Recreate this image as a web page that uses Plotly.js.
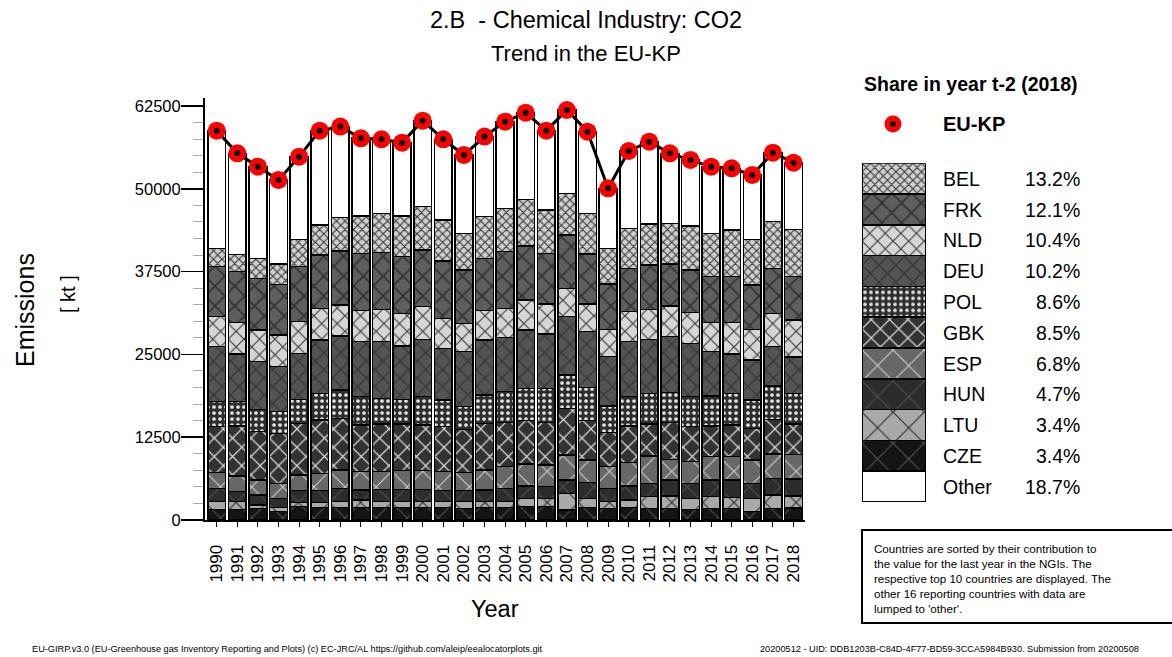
<!DOCTYPE html>
<html>
<head>
<meta charset="utf-8">
<script src="https://cdn.plot.ly/plotly-3.0.1.min.js"></script>
<style>
html,body{margin:0;padding:0;background:#fff;}
#chart{width:1172px;height:657px;}
</style>
</head>
<body>
<div id="chart"></div>
<script>
// ---------------- DATA ----------------
const years = [1990,1991,1992,1993,1994,1995,1996,1997,1998,1999,2000,2001,2002,2003,2004,2005,2006,2007,2008,2009,2010,2011,2012,2013,2014,2015,2016,2017,2018];
const euKP  = [58770,55350,53340,51330,54850,58770,59380,57620,57470,56960,60280,57470,55100,57870,60130,61490,58770,61890,58620,50070,55700,57110,55350,54350,53340,53090,52080,55450,53940];

const CZE   = [1610,1610,1761,1258,2013,1912,1912,1912,1912,1912,1912,1912,1761,1912,1912,2013,2013,1510,1912,1761,1912,1761,1761,1610,1761,1761,1258,1761,1834];
const LTU   = [1157,1157,503,654,604,704,855,1107,855,855,855,855,1006,855,855,1258,1258,2516,1359,1006,1107,1761,1862,1661,1761,1661,2013,2013,1834];
const HUN   = [2013,1510,1510,1359,1812,1812,2013,1510,1862,1862,1862,1661,1661,1761,2013,1862,1761,2013,2365,2013,2113,2013,2415,2264,2516,2617,2264,2516,2535];
const ESP   = [2365,2365,2264,2264,2365,2617,2768,2768,2667,2818,2818,2868,2717,3019,3271,3321,3271,3774,3422,3271,3522,4126,3120,3271,3522,3522,3522,3673,3668];
const GBK   = [6944,7548,7296,7548,7800,8051,7800,7045,7196,7045,6894,6793,6542,7045,6642,6542,6391,7045,5938,5133,5535,4831,5535,5284,4629,4780,4780,5233,4585];
const POL   = [3774,3673,3371,3271,3623,4026,4277,4277,3875,3724,4277,4026,3422,4277,4680,4881,5183,5032,5032,4026,4428,4629,4529,4529,4529,4780,4277,5032,4639];
const DEU   = [8303,7196,7196,6793,6944,8051,8152,8303,8554,8051,8655,7800,8303,8303,8202,8806,8202,8806,8403,7447,8303,8152,8454,8051,6693,5938,6038,5938,5502];
const NLD   = [4529,4730,4780,4780,4780,4780,4680,4680,4881,4931,4931,4529,4277,4428,4378,4529,4529,4277,4177,4126,4529,4529,4629,4629,4378,4730,4629,5032,5610];
const FRK   = [7548,7699,7800,7649,8303,8051,8152,8655,8554,8554,8554,8655,8051,7900,8554,8152,7649,8051,7548,6844,6542,6693,6340,6441,6944,6944,6693,6793,6527];
const BEL   = [2768,2617,3019,3070,4126,4529,5082,5636,5938,6139,6542,6189,5535,6290,6542,7045,6542,6290,6139,5384,6038,6189,6139,6642,6542,7045,6894,7045,7120];
const Other = [17763,15247,13838,12681,12479,14241,13687,11725,11171,11070,12983,12177,11825,12077,13083,13083,11976,12580,12328,9058,11674,12429,10567,9963,10064,9309,9712,10416,10087];

const yTicks = [0,12500,25000,37500,50000,62500];
const legendNames  = ["BEL","FRK","NLD","DEU","POL","GBK","ESP","HUN","LTU","CZE","Other"];
const legendShares = ["13.2%","12.1%","10.4%","10.2%","8.6%","8.5%","6.8%","4.7%","3.4%","3.4%","18.7%"];
const noteLines = [
  "Countries are sorted by their contribution to",
  "the value for the last year in the NGIs. The",
  "respective top 10 countries are displayed. The",
  "other 16 reporting countries with data are",
  "lumped to 'other'."
];

// ---------------- STYLES ----------------
const styles = {
  BEL:  {bg:"#cfcfcf", fg:"#3a3a3a", shape:"x", size:6,  sol:0.35},
  FRK:  {bg:"#5e5e5e", fg:"#333333", shape:"x", size:14, sol:0.22},
  NLD:  {bg:"#d6d6d6", fg:"#3c3c3c", shape:"x", size:11, sol:0.2},
  DEU:  {bg:"#545454", fg:"#383838", shape:"x", size:12, sol:0.22},
  POL:  {bg:"#2e2e2e", fg:"#e4e4e4", shape:".", size:6,  sol:0.3},
  GBK:  {bg:"#323232", fg:"#d6d6d6", shape:"x", size:13, sol:0.18},
  ESP:  {bg:"#676767", fg:"#cccccc", shape:"x", size:22, sol:0.1},
  HUN:  {bg:"#2c2c2c", fg:"#4e4e4e", shape:"x", size:22, sol:0.1},
  LTU:  {bg:"#a9a9a9", fg:"#2e2e2e", shape:"x", size:22, sol:0.1},
  CZE:  {bg:"#141414", fg:"#505050", shape:"x", size:22, sol:0.1},
  Other:{bg:"#ffffff", fg:"#ffffff", shape:"",  size:8,  sol:0.1}
};
function markerFor(name){
  const s = styles[name];
  const m = {color:s.bg, line:{color:"#000", width:1.6}};
  if (s.shape) m.pattern = {shape:s.shape, fgcolor:s.fg, bgcolor:s.bg, size:s.size, solidity:s.sol, fillmode:"replace"};
  return m;
}

const W = 1172, H = 657;
const px = x => x / W;
const py = y => 1 - y / H;

const stackOrder = [["CZE",CZE],["LTU",LTU],["HUN",HUN],["ESP",ESP],["GBK",GBK],["POL",POL],["DEU",DEU],["NLD",NLD],["FRK",FRK],["BEL",BEL],["Other",Other]];

const traces = [];
stackOrder.forEach(([name, vals]) => {
  traces.push({type:"bar", x:years, y:vals, name:name, marker:markerFor(name), width:0.86,
    xaxis:"x", yaxis:"y", showlegend:false, hoverinfo:"skip"});
});
// legend swatch column (one unit per country), bottom -> top: Other, CZE ... BEL
const legendStack = legendNames.slice().reverse();
legendStack.forEach(name => {
  traces.push({type:"bar", x:[0], y:[1], width:1, marker:markerFor(name), xaxis:"x2", yaxis:"y2",
    showlegend:false, hoverinfo:"skip"});
});
traces.push({type:"scatter", mode:"lines+markers", x:years, y:euKP, xaxis:"x", yaxis:"y",
  line:{color:"#000", width:3}, marker:{size:18, color:"#ff0000", line:{width:0}}, showlegend:false, hoverinfo:"skip"});
traces.push({type:"scatter", mode:"markers", x:years, y:euKP, xaxis:"x", yaxis:"y",
  marker:{size:6, color:"#000"}, showlegend:false, hoverinfo:"skip"});

const font = "Liberation Sans, Arial, sans-serif";
function ann(text, x, y, size, opts){
  return Object.assign({text:text, x:px(x), y:py(y), xref:"paper", yref:"paper", showarrow:false,
    xanchor:"center", yanchor:"middle", font:{size:size, family:font, color:"#000"}}, opts||{});
}
const annotations = [
  ann("2.B  - Chemical Industry: CO2", 586, 20, 23.5),
  ann("Trend in the EU-KP", 586, 53, 22),
  ann("Emissions", 25, 310, 25, {textangle:-90}),
  ann("[ kt ]", 68, 294, 20, {textangle:-90}),
  ann("Year", 495, 609, 23.5),
  ann("<b>Share in year t-2 (2018)</b>", 862, 84, 19.5, {xanchor:"left"}),
  ann("<b>EU-KP</b>", 941, 124, 20, {xanchor:"left"}),
  ann("EU-GIRP.v3.0 (EU-Greenhouse gas Inventory Reporting and Plots) (c) EC-JRC/AL https://github.com/aleip/eealocatorplots.git", 30, 649, 9.2, {xanchor:"left"}),
  ann("20200512 - UID: DDB1203B-C84D-4F77-BD59-3CCA5984B930. Submission from 20200508", 1141, 649, 9.2, {xanchor:"right"}),
  ann(noteLines.join("<br>"), 872, 540, 11.6, {xanchor:"left", yanchor:"top", align:"left"})
];
const segTop = 163.3, segH = 30.8;
legendNames.forEach((n,i) => {
  const yc = segTop + segH*(i+0.5);
  annotations.push(ann(n, 941, yc, 19.5, {xanchor:"left"}));
  annotations.push(ann(legendShares[i], 1082, yc, 19.5, {xanchor:"right"}));
});

const shapes = [
  {type:"circle", xref:"paper", yref:"paper", xsizemode:"pixel", ysizemode:"pixel", xanchor:px(893), yanchor:py(124), x0:-8.5, x1:8.5, y0:-8.5, y1:8.5, fillcolor:"#ff0000", line:{width:0}},
  {type:"circle", xref:"paper", yref:"paper", xsizemode:"pixel", ysizemode:"pixel", xanchor:px(893), yanchor:py(124), x0:-3, x1:3, y0:-3, y1:3, fillcolor:"#000", line:{width:0}},
  {type:"rect", xref:"paper", yref:"paper", x0:px(862), x1:px(1180), y0:py(530), y1:py(623), line:{color:"#000", width:2}, fillcolor:"rgba(0,0,0,0)"}
];

const layout = {
  width:W, height:H, margin:{l:0,r:0,t:0,b:0}, paper_bgcolor:"#fff", plot_bgcolor:"#fff",
  barmode:"stack", bargap:0.14, showlegend:false,
  font:{family:font, color:"#000"},
  xaxis:{domain:[px(205), px(805)], range:[1989.43, 2018.56], tickmode:"linear", tick0:1990, dtick:1,
    ticks:"outside", ticklen:5, tickwidth:1, tickcolor:"#000", showline:true, linecolor:"#000", linewidth:2,
    tickangle:-90, tickfont:{size:17, family:font, color:"#000"}, ticklabelstandoff:11, showgrid:false, zeroline:false, anchor:"y"},
  yaxis:{domain:[1-520/H, 1-98/H], range:[0, 63700], tickmode:"array", tickvals:yTicks, ticktext:yTicks.map(String),
    ticks:"outside", ticklen:22, tickwidth:1.5, tickcolor:"#000", showline:true, linecolor:"#000", linewidth:2,
    minor:{tickmode:"linear", dtick:2500, tick0:0, ticks:"outside", ticklen:10, tickcolor:"#aaa", tickwidth:1},
    tickfont:{size:16.5, family:font, color:"#000"}, ticklabelstandoff:-3, showgrid:false, zeroline:false, anchor:"x"},
  xaxis2:{domain:[px(862), px(926)], range:[-0.5,0.5], visible:false, anchor:"y2", fixedrange:true},
  yaxis2:{domain:[1-502/H, 1-163.3/H], range:[0,11], visible:false, anchor:"x2", fixedrange:true},
  annotations:annotations, shapes:shapes
};

Plotly.newPlot("chart", traces, layout, {staticPlot:true, displayModeBar:false});
</script>
</body>
</html>
